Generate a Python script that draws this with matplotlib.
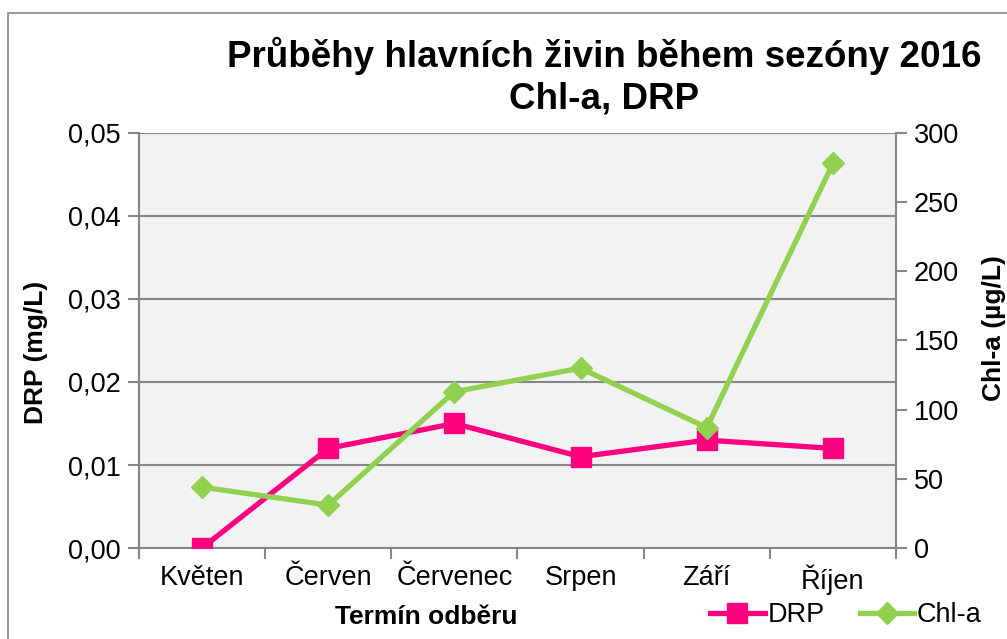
import matplotlib
matplotlib.use("Agg")
import matplotlib.pyplot as plt
from matplotlib.lines import Line2D
from matplotlib.patches import Rectangle

plt.rcParams['font.family'] = ['Liberation Sans', 'DejaVu Sans']

# data
months = ["Květen", "Červen", "Červenec", "Srpen", "Září", "Říjen"]
drp = [0.000, 0.012, 0.015, 0.011, 0.013, 0.012]
chla = [44, 31, 113, 130, 87, 278]

pink = "#FF0080"
green = "#92D050"
grey = "#868686"

fig = plt.figure(figsize=(10.07, 6.39), dpi=100)
ax = fig.add_axes([0.138, 0.1424, 0.7518, 0.6495])
ax2 = ax.twinx()

x = list(range(len(months)))
ax.plot(x, drp, color=pink, lw=3.8, marker="s", ms=14.5, zorder=3)
ax2.plot(x, chla, color=green, lw=3.8, marker="D", ms=11, zorder=3)

ax.set_facecolor("#F2F2F2")
ax.set_xlim(-0.5, 5.5)
ax.set_ylim(0, 0.05)
ax2.set_ylim(0, 300)
ax.set_yticks([0, 0.01, 0.02, 0.03, 0.04, 0.05])
ax.set_yticklabels(["0,00", "0,01", "0,02", "0,03", "0,04", "0,05"])
ax2.set_yticks(range(0, 301, 50))
ax.grid(axis="y", color=grey, lw=1.5)
ax.set_axisbelow(True)

# category ticks sit between months, labels at the centres
ax.set_xticks([i - 0.5 for i in range(len(months) + 1)])
ax.set_xticklabels([])
ax.set_xticks(x, minor=True)
ax.set_xticklabels(months, minor=True)
ax.tick_params(axis="x", which="minor", length=0, pad=12, labelsize=19.5)
ax.tick_params(axis="x", which="major", length=8, color=grey, width=1.5)
ax.tick_params(axis="y", length=8, color=grey, width=1.5, labelsize=19.5, pad=5)
ax2.tick_params(axis="y", length=8, color=grey, width=1.5, labelsize=19.5, pad=5)

for a in (ax, ax2):
    for s in a.spines.values():
        s.set_visible(False)
ax.spines["left"].set_visible(True)
ax.spines["left"].set_color(grey)
ax.spines["left"].set_linewidth(1.5)
ax.spines["bottom"].set_visible(True)
ax.spines["bottom"].set_color(grey)
ax.spines["bottom"].set_linewidth(1.5)
ax2.spines["right"].set_visible(True)
ax2.spines["right"].set_color(grey)
ax2.spines["right"].set_linewidth(1.5)

fig.text(0.6, 0.913, "Průběhy hlavních živin během sezóny 2016", ha="center", va="center",
         fontsize=26.5, fontweight="bold")
fig.text(0.6, 0.845, "Chl-a, DRP", ha="center", va="center", fontsize=26.5, fontweight="bold")
fig.text(0.036, 0.449, "DRP (mg/L)", rotation=90, ha="center", va="center",
         fontsize=19, fontweight="bold")
fig.text(0.987, 0.487, "Chl-a (µg/L)", rotation=90, ha="center", va="center",
         fontsize=19, fontweight="bold")
fig.text(0.423, 0.035, "Termín odběru", ha="center", va="center",
         fontsize=19, fontweight="bold")

handles = [Line2D([], [], color=pink, lw=3.8, marker="s", ms=14.5),
           Line2D([], [], color=green, lw=3.8, marker="D", ms=11)]
fig.legend(handles, ["DRP", "Chl-a"], loc="center", bbox_to_anchor=(0.84, 0.037),
           ncol=2, frameon=False, fontsize=19.5, handlelength=2.0,
           handletextpad=0.1, columnspacing=1.3, borderpad=0)

fig.patches.append(Rectangle((0.008, -0.05), 1.1, 1.03, transform=fig.transFigure,
                             fill=False, edgecolor=grey, lw=1.2))

fig.savefig("out.png", dpi=100)
